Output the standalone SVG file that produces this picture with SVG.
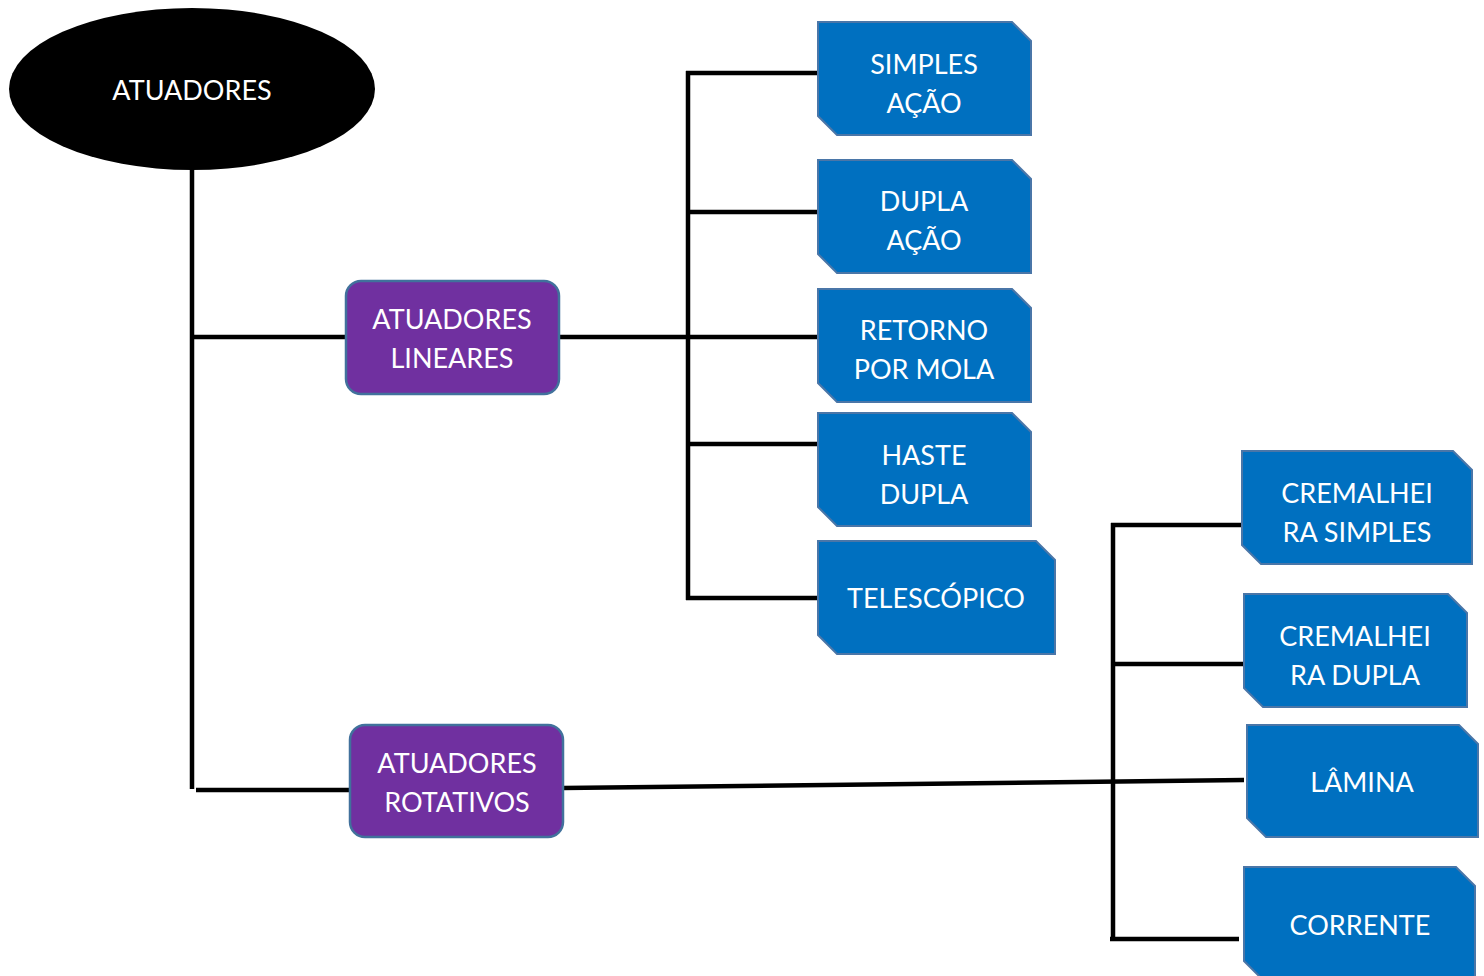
<svg xmlns="http://www.w3.org/2000/svg" width="1484" height="976" viewBox="0 0 1484 976">
<style>
.blue{fill:#0070c0;stroke:#4a76a8;stroke-width:2}
.purple{fill:#7030a0;stroke:#41719c;stroke-width:2.5}
.t{font-family:Lato,"Open Sans",sans-serif;font-size:27px;fill:#fff;text-anchor:middle}
.c{stroke:#000;stroke-width:4.5;fill:none}
</style>
<rect width="1484" height="976" fill="#fff"/>
<g id="connectors">
<line class="c" x1="192" y1="168" x2="192" y2="789"/>
<line class="c" x1="192" y1="337" x2="347" y2="337"/>
<line class="c" x1="196" y1="790" x2="351" y2="790"/>
<line class="c" x1="559" y1="337" x2="818" y2="337"/>
<line class="c" x1="688" y1="71" x2="688" y2="600"/>
<line class="c" x1="686" y1="73" x2="818" y2="73"/>
<line class="c" x1="688" y1="212" x2="818" y2="212"/>
<line class="c" x1="688" y1="444" x2="818" y2="444"/>
<line class="c" x1="686" y1="598" x2="818" y2="598"/>
<line class="c" x1="563" y1="788" x2="1244" y2="780"/>
<line class="c" x1="1113" y1="523" x2="1113" y2="941"/>
<line class="c" x1="1111" y1="525" x2="1242" y2="525"/>
<line class="c" x1="1113" y1="664" x2="1244" y2="664"/>
<line class="c" x1="1110" y1="939" x2="1239" y2="939"/>
</g>
<g id="atuadores">
<ellipse cx="192" cy="89" rx="183" ry="81" fill="#000"/>
<text class="t" x="192" y="100">ATUADORES</text>
</g>
<g id="lineares">
<rect class="purple" x="346" y="281" width="213" height="113" rx="15"/>
<text class="t" x="452" y="329">ATUADORES</text>
<text class="t" x="452" y="368">LINEARES</text>
</g>
<g id="rotativos">
<rect class="purple" x="350" y="725" width="213" height="112" rx="15"/>
<text class="t" x="457" y="773">ATUADORES</text>
<text class="t" x="457" y="812">ROTATIVOS</text>
</g>
<g id="simples">
<polygon class="blue" points="818,22 1012,22 1031,41 1031,135 837,135 818,116"/>
<text class="t" x="924" y="74">SIMPLES</text>
<text class="t" x="924" y="113">AÇÃO</text>
</g>
<g id="dupla">
<polygon class="blue" points="818,160 1012,160 1031,179 1031,273 837,273 818,254"/>
<text class="t" x="924" y="211">DUPLA</text>
<text class="t" x="924" y="250">AÇÃO</text>
</g>
<g id="retorno">
<polygon class="blue" points="818,289 1012,289 1031,308 1031,402 837,402 818,383"/>
<text class="t" x="924" y="340">RETORNO</text>
<text class="t" x="924" y="379">POR MOLA</text>
</g>
<g id="haste">
<polygon class="blue" points="818,413 1012,413 1031,432 1031,526 837,526 818,507"/>
<text class="t" x="924" y="465">HASTE</text>
<text class="t" x="924" y="504">DUPLA</text>
</g>
<g id="telescopico">
<polygon class="blue" points="818,541 1036,541 1055,560 1055,654 837,654 818,635"/>
<text class="t" x="936" y="608">TELESCÓPICO</text>
</g>
<g id="crem-simples">
<polygon class="blue" points="1242,451 1453,451 1472,470 1472,564 1261,564 1242,545"/>
<text class="t" x="1357" y="503">CREMALHEI</text>
<text class="t" x="1357" y="542">RA SIMPLES</text>
</g>
<g id="crem-dupla">
<polygon class="blue" points="1244,594 1448,594 1467,613 1467,707 1263,707 1244,688"/>
<text class="t" x="1355" y="646">CREMALHEI</text>
<text class="t" x="1355" y="685">RA DUPLA</text>
</g>
<g id="lamina">
<polygon class="blue" points="1247,725 1459,725 1478,744 1478,837 1266,837 1247,818"/>
<text class="t" x="1362" y="792">LÂMINA</text>
</g>
<g id="corrente">
<polygon class="blue" points="1244,867 1456,867 1475,886 1475,980 1263,980 1244,961"/>
<text class="t" x="1360" y="935">CORRENTE</text>
</g>
</svg>
